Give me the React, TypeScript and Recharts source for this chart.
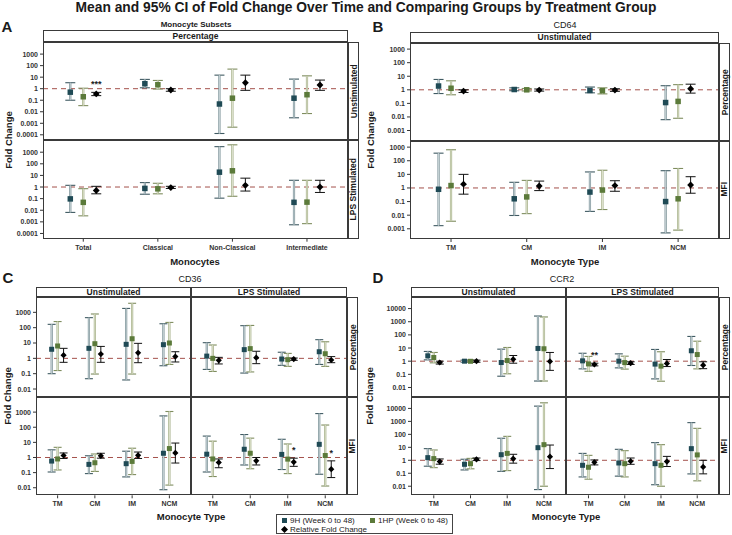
import React from 'react';
import { ErrorBar, ReferenceLine, Scatter, ScatterChart, XAxis, YAxis } from 'recharts';

// each estimate: [mean, lower 95% CI, upper 95% CI]
type Est = [number, number, number];

const subsetCats = ['Total', 'Classical', 'Non-Classical', 'Intermediate'];
const typeCats = ['TM', 'CM', 'IM', 'NCM'];

// A: monocyte subsets, percentage
const aUnstim9H: Est[] = [[0.5, 0.1, 3.3], [2.7, 1.2, 6.4], [0.047, 0.00013, 15], [0.15, 0.003, 6.8]];
const aUnstim1HP: Est[] = [[0.2, 0.034, 1.1], [2.2, 0.93, 5.2], [0.15, 0.00046, 50], [0.3, 0.007, 13]];
const aUnstimRel: Est[] = [[0.35, 0.25, 0.48], [0.77, 0.6, 1.0], [3.3, 0.72, 15], [2.1, 0.72, 5.6]];
const aUnstimStars = ['***', '', '', ''];
const aLps9H: Est[] = [[0.095, 0.0065, 1.4], [0.76, 0.24, 2.4], [19, 0.11, 3000], [0.048, 0.00056, 3.8]];
const aLps1HP: Est[] = [[0.048, 0.0033, 0.72], [0.7, 0.26, 2.1], [25, 0.16, 4300], [0.05, 0.0007, 3.8]];
const aLpsRel: Est[] = [[0.5, 0.26, 1.15], [0.9, 0.75, 1.15], [1.4, 0.45, 5.8], [1.0, 0.34, 3.8]];

// B: CD64, unstimulated
const bPct9H: Est[] = [[1.9, 0.53, 5.8], [1.05, 0.85, 1.4], [0.9, 0.6, 1.6], [0.115, 0.0063, 2]];
const bPct1HP: Est[] = [[1.3, 0.43, 4.6], [1.0, 0.82, 1.25], [0.85, 0.5, 1.4], [0.14, 0.008, 2.4]];
const bPctRel: Est[] = [[0.8, 0.63, 1.0], [0.95, 0.8, 1.15], [0.95, 0.77, 1.2], [1.2, 0.57, 2.6]];
const bMfi9H: Est[] = [[0.8, 0.0017, 360], [0.16, 0.0095, 2.6], [0.5, 0.019, 15], [0.1, 0.0005, 18.5]];
const bMfi1HP: Est[] = [[1.5, 0.0036, 640], [0.22, 0.013, 3.6], [0.7, 0.026, 20], [0.16, 0.0008, 27]];
const bMfiRel: Est[] = [[1.9, 0.35, 10], [1.4, 0.64, 3.2], [1.5, 0.57, 3.4], [1.65, 0.41, 6.7]];

// C: CD36
const cPctUn9H: Est[] = [[3.9, 0.1, 165], [4.5, 0.047, 450], [8.2, 0.039, 1800], [7.8, 0.33, 180]];
const cPctUn1HP: Est[] = [[6.4, 0.16, 250], [9, 0.095, 780], [19, 0.095, 3900], [10, 0.4, 220]];
const cPctUnRel: Est[] = [[1.6, 0.55, 4.5], [1.9, 0.55, 6], [2.3, 0.52, 9.5], [1.3, 0.58, 2.7]];
const cPctLps9H: Est[] = [[1.4, 0.19, 10.5], [3.7, 0.11, 135], [0.9, 0.35, 2.5], [2.7, 0.4, 16.5]];
const cPctLps1HP: Est[] = [[1.0, 0.14, 7.4], [4.3, 0.13, 140], [0.82, 0.3, 2.1], [2.0, 0.3, 12]];
const cPctLpsRel: Est[] = [[0.74, 0.43, 1.16], [1.1, 0.45, 2.9], [0.9, 0.74, 1.05], [0.78, 0.52, 1.3]];
const cMfiUn9H: Est[] = [[0.58, 0.11, 3.2], [0.35, 0.086, 1.3], [0.39, 0.052, 2.6], [1.9, 0.0074, 560]];
const cMfiUn1HP: Est[] = [[0.8, 0.15, 4.7], [0.45, 0.12, 1.7], [0.55, 0.074, 4.1], [3.9, 0.015, 1100]];
const cMfiUnRel: Est[] = [[1.35, 0.86, 2], [1.28, 0.9, 1.9], [1.4, 0.86, 2.3], [1.99, 0.43, 9]];
const cMfiLps9H: Est[] = [[1.65, 0.11, 26], [3.5, 0.32, 33], [1.6, 0.16, 16], [7.4, 0.078, 800]];
const cMfiLps1HP: Est[] = [[0.8, 0.055, 12], [1.9, 0.18, 19], [0.78, 0.086, 7.8], [1.35, 0.013, 140]];
const cMfiLpsRel: Est[] = [[0.47, 0.21, 0.8], [0.6, 0.32, 1.0], [0.5, 0.26, 0.9], [0.17, 0.047, 0.6]];
const cMfiLpsStars = ['', '', '*', '*'];

// D: CCR2
const dPctUn9H: Est[] = [[2.55, 1.26, 5.5], [1.0, 0.84, 1.2], [0.79, 0.072, 8.2], [9.3, 0.031, 2700]];
const dPctUn1HP: Est[] = [[1.9, 0.75, 4.6], [0.98, 0.84, 1.2], [1.12, 0.11, 11], [8.8, 0.031, 2300]];
const dPctUnRel: Est[] = [[0.79, 0.6, 1.0], [1.0, 0.83, 1.2], [1.4, 0.7, 2.7], [0.95, 0.2, 4.6]];
const dPctLps9H: Est[] = [[1.06, 0.26, 4], [1.0, 0.31, 3.6], [0.6, 0.045, 7.8], [6.2, 0.47, 76]];
const dPctLps1HP: Est[] = [[0.62, 0.17, 2.3], [0.78, 0.25, 2.4], [0.42, 0.03, 5.2], [3.2, 0.26, 33]];
const dPctLpsRel: Est[] = [[0.56, 0.44, 0.7], [0.7, 0.56, 0.9], [0.66, 0.39, 1.34], [0.5, 0.27, 0.9]];
const dPctLpsStars = ['**', '', '', ''];
const dMfiUn9H: Est[] = [[1.6, 0.35, 7.9], [0.49, 0.18, 1.2], [2.7, 0.14, 50], [9.4, 0.0055, 15000]];
const dMfiUn1HP: Est[] = [[1.35, 0.27, 6.2], [0.55, 0.22, 1.4], [3.4, 0.16, 70], [16, 0.01, 27000]];
const dMfiUnRel: Est[] = [[0.79, 0.5, 1.27], [1.19, 0.95, 1.5], [1.34, 0.6, 2.9], [1.9, 0.23, 15]];
const dMfiLps9H: Est[] = [[0.41, 0.052, 3.4], [0.62, 0.06, 7], [0.55, 0.013, 23], [7.9, 0.089, 800]];
const dMfiLps1HP: Est[] = [[0.29, 0.035, 2.4], [0.55, 0.052, 5.5], [0.41, 0.01, 16], [2.6, 0.026, 290]];
const dMfiLpsRel: Est[] = [[0.7, 0.44, 1.06], [0.84, 0.49, 1.5], [0.79, 0.33, 2.0], [0.31, 0.09, 1.0]];

const ticksA = [0.0001, 0.001, 0.01, 0.1, 1, 10, 100, 1000];
const ticksB = [0.001, 0.01, 0.1, 1, 10, 100, 1000];
const ticksC = [0.01, 0.1, 1, 10, 100, 1000];
const ticksD = [0.01, 0.1, 1, 10, 100, 1000, 10000];

const FONT = '"Liberation Sans", Arial, Helvetica, sans-serif';
const C9H = '#1f4a55';
const C1HP = '#5b7a3a';

function toPoints(vals: Est[], shift: number) {
  return vals.map(([m, lo, hi], i) => ({ x: i + 1 + shift, y: m, err: [m - lo, hi - m] }));
}

function starPoints(vals: Est[], stars: string[] | undefined, shift: number) {
  if (!stars) return [];
  return vals
    .map(([, , hi], i) => ({ x: i + 1 + shift, y: hi, star: stars[i] }))
    .filter((p) => p.star);
}

const square = (fill: string, s: number) => (props: any) =>
  <rect x={props.cx - s / 2} y={props.cy - s / 2} width={s} height={s} fill={fill} />;

const diamond = (r: number) => (props: any) => {
  const { cx, cy } = props;
  return <path d={`M${cx},${cy - r}L${cx + r},${cy}L${cx},${cy + r}L${cx - r},${cy}Z`} fill="#000" />;
};

const starShape = (props: any) => (
  <text x={props.cx} y={props.cy - 5} textAnchor="middle" fontSize={9} fontWeight={700} fill="#222" fontFamily={FONT}>
    {props.payload.star}
  </text>
);

interface FacetProps {
  left: number; top: number; width: number; height: number;
  xDomain: [number, number]; shift: number;
  yDomain: [number, number]; yTicks: number[];
  cats: string[]; showX?: boolean; showY?: boolean;
  nineH: Est[]; oneHP: Est[]; rel: Est[]; stars?: string[];
  size: number; cap: number;
}

function Facet(p: FacetProps) {
  const yw = p.showY ? 40 : 0;
  const xh = p.showX ? 18 : 0;
  const tick = { fontSize: 7, fontWeight: 700, fill: '#333', fontFamily: FONT };
  return (
    <>
      <div style={{ position: 'absolute', left: p.left - yw, top: p.top }}>
        <ScatterChart width={p.width + yw} height={p.height + xh} margin={{ top: 0, right: 0, bottom: 0, left: 0 }}>
          <XAxis type="number" dataKey="x" domain={p.xDomain} ticks={[1, 2, 3, 4]} interval={0}
            tickFormatter={(v: number) => p.cats[v - 1]} hide={!p.showX} height={xh} tick={tick}
            tickSize={3} tickMargin={3} axisLine={false} tickLine={{ stroke: '#333' }} allowDataOverflow />
          <YAxis type="number" dataKey="y" scale="log" domain={p.yDomain} ticks={p.yTicks} interval={0}
            tickFormatter={(v: number) => String(v)} hide={!p.showY} width={yw} tick={tick}
            tickSize={3} tickMargin={2} axisLine={false} tickLine={{ stroke: '#333' }} allowDataOverflow />
          <ReferenceLine y={1} stroke="#a4504a" strokeDasharray="5 4" strokeWidth={1} />
          <Scatter data={toPoints(p.nineH, -p.shift)} shape={square(C9H, p.size)} isAnimationActive={false}>
            <ErrorBar dataKey="err" direction="y" width={p.cap} stroke="#3f5a62" strokeWidth={1.1} />
            <ErrorBar dataKey="err" direction="y" width={0} stroke="#7d9399" strokeWidth={2.2} />
            <ErrorBar dataKey="err" direction="y" width={0} stroke="#c6d2d5" strokeWidth={1} />
          </Scatter>
          <Scatter data={toPoints(p.oneHP, 0)} shape={square(C1HP, p.size)} isAnimationActive={false}>
            <ErrorBar dataKey="err" direction="y" width={p.cap} stroke="#7f8d5f" strokeWidth={1.1} />
            <ErrorBar dataKey="err" direction="y" width={0} stroke="#a3ae86" strokeWidth={2.2} />
            <ErrorBar dataKey="err" direction="y" width={0} stroke="#e0e4d0" strokeWidth={1} />
          </Scatter>
          <Scatter data={toPoints(p.rel, p.shift)} shape={diamond(p.size * 0.62)} isAnimationActive={false}>
            <ErrorBar dataKey="err" direction="y" width={p.cap} stroke="#111" strokeWidth={1} />
          </Scatter>
          <Scatter data={starPoints(p.rel, p.stars, p.shift)} shape={starShape} isAnimationActive={false} />
        </ScatterChart>
      </div>
      <div style={{ position: 'absolute', left: p.left, top: p.top, width: p.width, height: p.height,
        border: '1px solid #3a3a3a', boxSizing: 'border-box', pointerEvents: 'none' }} />
    </>
  );
}

function Text({ x, y, size, weight = 700, rotate = 0, children }: { x: number; y: number; size: number; weight?: number; rotate?: number; children: React.ReactNode }) {
  return (
    <div style={{ position: 'absolute', left: x, top: y, transform: `translate(-50%, -50%) rotate(${rotate}deg)`,
      fontSize: size, fontWeight: weight, lineHeight: 1, whiteSpace: 'nowrap', color: '#1a1a1a' }}>
      {children}
    </div>
  );
}

function Strip({ x, y, w, h, label, vertical = false }: { x: number; y: number; w: number; h: number; label: string; vertical?: boolean }) {
  return (
    <div style={{ position: 'absolute', left: x, top: y, width: w, height: h, border: '1px solid #3a3a3a',
      boxSizing: 'border-box', background: '#fff', display: 'flex', alignItems: 'center', justifyContent: 'center' }}>
      <div style={{ fontSize: 8.5, fontWeight: 700, whiteSpace: 'nowrap', lineHeight: 1, color: '#1a1a1a',
        transform: vertical ? 'rotate(-90deg)' : undefined }}>{label}</div>
    </div>
  );
}

const domA: [number, number] = [10 ** -4.45, 10 ** 4.05];
const domB: [number, number] = [10 ** -3.75, 10 ** 3.45];
const domC: [number, number] = [10 ** -2.5, 10 ** 4];
const domD: [number, number] = [10 ** -2.7, 10 ** 4.88];

export default function App() {
  return (
    <div style={{ position: 'absolute', left: 0, top: 0, width: 732, height: 535, background: '#fff',
      fontFamily: FONT, overflow: 'hidden' }}>
      <Text x={366} y={8} size={13.8}>Mean and 95% CI of Fold Change Over Time and Comparing Groups by Treatment Group</Text>

      {/* A */}
      <Text x={7} y={26} size={15}>A</Text>
      <Text x={196} y={24.5} size={8}>Monocyte Subsets</Text>
      <Strip x={43} y={30} w={305} h={12} label="Percentage" />
      <Facet left={43} top={42} width={305} height={98} xDomain={[0.46, 4.55]} shift={0.174}
        yDomain={domA} yTicks={ticksA} cats={subsetCats} showY
        nineH={aUnstim9H} oneHP={aUnstim1HP} rel={aUnstimRel} stars={aUnstimStars} size={5.5} cap={5} />
      <Facet left={43} top={140} width={305} height={98.7} xDomain={[0.46, 4.55]} shift={0.174}
        yDomain={domA} yTicks={ticksA} cats={subsetCats} showY showX
        nineH={aLps9H} oneHP={aLps1HP} rel={aLpsRel} size={5.5} cap={5} />
      <Strip x={348} y={42} w={11} h={98} label="Unstimulated" vertical />
      <Strip x={348} y={140} w={11} h={98.7} label="LPS Stimulated" vertical />
      <Text x={9} y={140} size={9.5} rotate={-90}>Fold Change</Text>
      <Text x={195} y={262} size={9.5}>Monocytes</Text>

      {/* B */}
      <Text x={378} y={26} size={15}>B</Text>
      <Text x={565} y={25} size={9} weight={400}>CD64</Text>
      <Strip x={410} y={32} w={309} h={11} label="Unstimulated" />
      <Facet left={410} top={43} width={309} height={97.7} xDomain={[0.458, 4.54]} shift={0.165}
        yDomain={domB} yTicks={ticksB} cats={typeCats} showY
        nineH={bPct9H} oneHP={bPct1HP} rel={bPctRel} size={5.5} cap={5} />
      <Facet left={410} top={140.7} width={309} height={98} xDomain={[0.458, 4.54]} shift={0.165}
        yDomain={domB} yTicks={ticksB} cats={typeCats} showY showX
        nineH={bMfi9H} oneHP={bMfi1HP} rel={bMfiRel} size={5.5} cap={5} />
      <Strip x={719} y={43} w={11} h={97.7} label="Percentage" vertical />
      <Strip x={719} y={140.7} w={11} h={98} label="MFI" vertical />
      <Text x={371} y={140} size={9.5} rotate={-90}>Fold Change</Text>
      <Text x={565} y={262} size={9.5}>Monocyte Type</Text>

      {/* C */}
      <Text x={8} y={277} size={15}>C</Text>
      <Text x={190} y={279} size={9} weight={400}>CD36</Text>
      <Strip x={36} y={287} w={155} h={10} label="Unstimulated" />
      <Strip x={191} y={287} w={156} h={10} label="LPS Stimulated" />
      <Facet left={36} top={297} width={155} height={99.7} xDomain={[0.42, 4.58]} shift={0.16}
        yDomain={domC} yTicks={ticksC} cats={typeCats} showY
        nineH={cPctUn9H} oneHP={cPctUn1HP} rel={cPctUnRel} size={5} cap={4} />
      <Facet left={191} top={297} width={156} height={99.7} xDomain={[0.42, 4.58]} shift={0.16}
        yDomain={domC} yTicks={ticksC} cats={typeCats}
        nineH={cPctLps9H} oneHP={cPctLps1HP} rel={cPctLpsRel} size={5} cap={4} />
      <Facet left={36} top={396.7} width={155} height={98.3} xDomain={[0.42, 4.58]} shift={0.16}
        yDomain={domC} yTicks={ticksC} cats={typeCats} showY showX
        nineH={cMfiUn9H} oneHP={cMfiUn1HP} rel={cMfiUnRel} size={5} cap={4} />
      <Facet left={191} top={396.7} width={156} height={98.3} xDomain={[0.42, 4.58]} shift={0.16}
        yDomain={domC} yTicks={ticksC} cats={typeCats} showX
        nineH={cMfiLps9H} oneHP={cMfiLps1HP} rel={cMfiLpsRel} stars={cMfiLpsStars} size={5} cap={4} />
      <Strip x={347} y={297} w={11} h={99.7} label="Percentage" vertical />
      <Strip x={347} y={396.7} w={11} h={98.3} label="MFI" vertical />
      <Text x={8} y={396} size={9.5} rotate={-90}>Fold Change</Text>
      <Text x={191} y={517} size={9.5}>Monocyte Type</Text>

      {/* D */}
      <Text x={378} y={277} size={15}>D</Text>
      <Text x={562} y={279} size={9} weight={400}>CCR2</Text>
      <Strip x={411} y={287} w={155} h={10} label="Unstimulated" />
      <Strip x={566} y={287} w={153} h={10} label="LPS Stimulated" />
      <Facet left={411} top={297} width={155} height={99.7} xDomain={[0.38, 4.6]} shift={0.163}
        yDomain={domD} yTicks={ticksD} cats={typeCats} showY
        nineH={dPctUn9H} oneHP={dPctUn1HP} rel={dPctUnRel} size={5} cap={4} />
      <Facet left={566} top={297} width={153} height={99.7} xDomain={[0.38, 4.6]} shift={0.163}
        yDomain={domD} yTicks={ticksD} cats={typeCats}
        nineH={dPctLps9H} oneHP={dPctLps1HP} rel={dPctLpsRel} stars={dPctLpsStars} size={5} cap={4} />
      <Facet left={411} top={396.7} width={155} height={98.3} xDomain={[0.38, 4.6]} shift={0.163}
        yDomain={domD} yTicks={ticksD} cats={typeCats} showY showX
        nineH={dMfiUn9H} oneHP={dMfiUn1HP} rel={dMfiUnRel} size={5} cap={4} />
      <Facet left={566} top={396.7} width={153} height={98.3} xDomain={[0.38, 4.6]} shift={0.163}
        yDomain={domD} yTicks={ticksD} cats={typeCats} showX
        nineH={dMfiLps9H} oneHP={dMfiLps1HP} rel={dMfiLpsRel} size={5} cap={4} />
      <Strip x={719} y={297} w={11} h={99.7} label="Percentage" vertical />
      <Strip x={719} y={396.7} w={11} h={98.3} label="MFI" vertical />
      <Text x={370} y={396} size={9.5} rotate={-90}>Fold Change</Text>
      <Text x={566} y={517} size={9.5}>Monocyte Type</Text>

      {/* shared legend */}
      <div style={{ position: 'absolute', left: 276, top: 514, width: 177, height: 20, border: '1px solid #444',
        boxSizing: 'border-box', fontSize: 8, color: '#222', background: '#fff' }}>
        <div style={{ position: 'absolute', left: 5, top: 2.5, width: 5, height: 5, background: C9H }} />
        <div style={{ position: 'absolute', left: 13, top: 1, lineHeight: '9px', whiteSpace: 'nowrap' }}>9H (Week 0 to 48)</div>
        <div style={{ position: 'absolute', left: 93, top: 2.5, width: 5, height: 5, background: C1HP }} />
        <div style={{ position: 'absolute', left: 101, top: 1, lineHeight: '9px', whiteSpace: 'nowrap' }}>1HP (Week 0 to 48)</div>
        <svg style={{ position: 'absolute', left: 4, top: 10.5, overflow: 'visible' }} width={7} height={7}>
          <path d="M3.5,0L7,3.5L3.5,7L0,3.5Z" fill="#000" />
        </svg>
        <div style={{ position: 'absolute', left: 13, top: 9.5, lineHeight: '9px', whiteSpace: 'nowrap' }}>Relative Fold Change</div>
      </div>
    </div>
  );
}
